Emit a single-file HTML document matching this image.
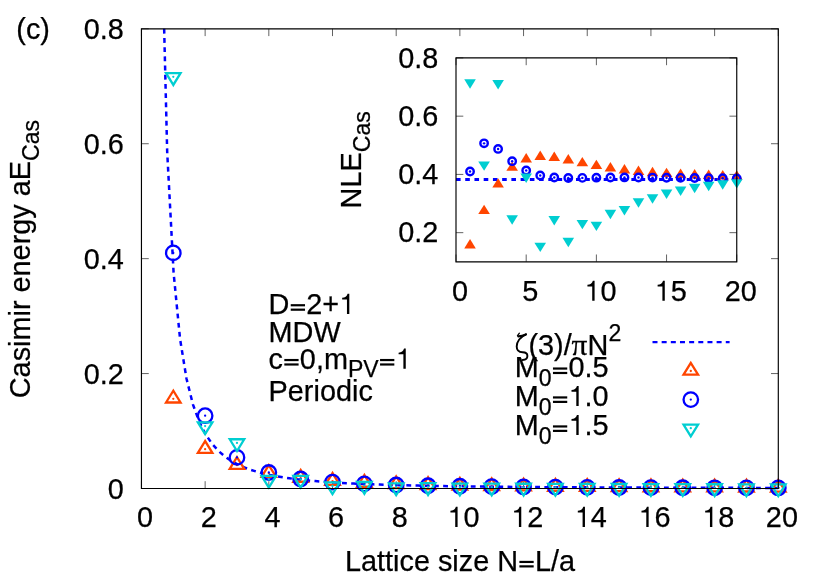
<!DOCTYPE html>
<html><head><meta charset="utf-8"><title>Casimir energy plot</title>
<style>html,body{margin:0;padding:0;background:#fff}text{stroke:#000;stroke-width:.25px;stroke-linejoin:round;font-kerning:none}body{width:830px;height:581px;overflow:hidden}</style>
</head><body>
<svg width="830" height="581" viewBox="0 0 830 581" style="display:block;will-change:transform;font-family:'Liberation Sans',sans-serif;font-size:28.85px" fill="#000">
<rect width="830" height="581" fill="#fff"/>
<path d="M141.45 488.5v-7.3M141.45 28.8v7.3M205.13 488.5v-7.3M205.13 28.8v7.3M268.82 488.5v-7.3M268.82 28.8v7.3M332.5 488.5v-7.3M332.5 28.8v7.3M396.19 488.5v-7.3M396.19 28.8v7.3M459.87 488.5v-7.3M459.87 28.8v7.3M523.56 488.5v-7.3M523.56 28.8v7.3M587.24 488.5v-7.3M587.24 28.8v7.3M650.93 488.5v-7.3M650.93 28.8v7.3M714.62 488.5v-7.3M714.62 28.8v7.3M778.3 488.5v-7.3M778.3 28.8v7.3M141.45 488.5h7.3M778.3 488.5h-7.3M141.45 373.57h7.3M778.3 373.57h-7.3M141.45 258.65h7.3M778.3 258.65h-7.3M141.45 143.72h7.3M778.3 143.72h-7.3M141.45 28.8h7.3M778.3 28.8h-7.3M456 261.8v-7.3M456 57.9v7.3M526.19 261.8v-7.3M526.19 57.9v7.3M596.38 261.8v-7.3M596.38 57.9v7.3M666.56 261.8v-7.3M666.56 57.9v7.3M736.75 261.8v-7.3M736.75 57.9v7.3M456.0 232.67h7.3M736.75 232.67h-7.3M456.0 174.41h7.3M736.75 174.41h-7.3M456.0 116.16h7.3M736.75 116.16h-7.3M456.0 57.9h7.3M736.75 57.9h-7.3" fill="none" stroke="#000" stroke-width="0.62"/>
<clipPath id="cm"><rect x="141.45" y="28.8" width="636.8499999999999" height="471.7"/></clipPath>
<path d="M164.16 28.8L167.18 151.79L173.61 273.01L180.05 338.85L186.48 378.56L192.91 404.32L199.35 421.99L205.78 434.63L212.21 443.98L218.64 451.09L225.08 456.62L231.51 461.01L237.94 464.56L244.38 467.46L250.81 469.86L257.24 471.87L263.67 473.58L270.11 475.03L276.54 476.28L282.97 477.37L289.41 478.32L295.84 479.15L302.27 479.88L308.7 480.53L315.14 481.11L321.57 481.63L328 482.09L334.43 482.51L340.87 482.89L347.3 483.24L353.73 483.55L360.17 483.84L366.6 484.1L373.03 484.34L379.46 484.56L385.9 484.77L392.33 484.96L398.76 485.13L405.2 485.3L411.63 485.45L418.06 485.59L424.49 485.72L430.93 485.84L437.36 485.95L443.79 486.06L450.23 486.16L456.66 486.26L463.09 486.35L469.52 486.43L475.96 486.51L482.39 486.58L488.82 486.65L495.26 486.72L501.69 486.78L508.12 486.84L514.55 486.9L520.99 486.95L527.42 487L533.85 487.05L540.29 487.1L546.72 487.14L553.15 487.18L559.58 487.22L566.02 487.26L572.45 487.3L578.88 487.33L585.32 487.37L591.75 487.4L598.18 487.43L604.61 487.46L611.05 487.49L617.48 487.52L623.91 487.54L630.34 487.57L636.78 487.59L643.21 487.61L649.64 487.64L656.08 487.66L662.51 487.68L668.94 487.7L675.37 487.72L681.81 487.74L688.24 487.75L694.67 487.77L701.11 487.79L707.54 487.8L713.97 487.82L720.4 487.83L726.84 487.85L733.27 487.86L739.7 487.88L746.14 487.89L752.57 487.9L759 487.92L765.43 487.93L771.87 487.94L778.3 487.95" fill="none" stroke="#0000ff" stroke-width="2.5" stroke-dasharray="4.85 4.35" stroke-dashoffset="0"/>
<clipPath id="cmc"><rect x="141.45" y="28.8" width="636.8499999999999" height="459.7"/></clipPath>
<path d="M173.29 390.75L166.04 402.49L180.54 402.49Z" fill="none" stroke="#ff4500" stroke-width="2.3" stroke-linejoin="miter" stroke-miterlimit="10"/><circle cx="173.29" cy="398.87" r="1.15" fill="#ff4500"/>
<path d="M205.13 441.06L197.88 452.8L212.38 452.8Z" fill="none" stroke="#ff4500" stroke-width="2.3" stroke-linejoin="miter" stroke-miterlimit="10"/><circle cx="205.13" cy="449.18" r="1.15" fill="#ff4500"/>
<path d="M236.98 457.1L229.73 468.84L244.23 468.84Z" fill="none" stroke="#ff4500" stroke-width="2.3" stroke-linejoin="miter" stroke-miterlimit="10"/><circle cx="236.98" cy="465.22" r="1.15" fill="#ff4500"/>
<path d="M268.82 465.21L261.57 476.96L276.07 476.96Z" fill="none" stroke="#ff4500" stroke-width="2.3" stroke-linejoin="miter" stroke-miterlimit="10"/><circle cx="268.82" cy="473.33" r="1.15" fill="#ff4500"/>
<path d="M300.66 470.01L293.41 481.76L307.91 481.76Z" fill="none" stroke="#ff4500" stroke-width="2.3" stroke-linejoin="miter" stroke-miterlimit="10"/><circle cx="300.66" cy="478.13" r="1.15" fill="#ff4500"/>
<path d="M332.5 473.05L325.25 484.79L339.75 484.79Z" fill="none" stroke="#ff4500" stroke-width="2.3" stroke-linejoin="miter" stroke-miterlimit="10"/><circle cx="332.5" cy="481.17" r="1.15" fill="#ff4500"/>
<path d="M364.35 475.03L357.1 486.77L371.6 486.77Z" fill="none" stroke="#ff4500" stroke-width="2.3" stroke-linejoin="miter" stroke-miterlimit="10"/><circle cx="364.35" cy="483.15" r="1.15" fill="#ff4500"/>
<path d="M396.19 476.36L388.94 488.11L403.44 488.11Z" fill="none" stroke="#ff4500" stroke-width="2.3" stroke-linejoin="miter" stroke-miterlimit="10"/><circle cx="396.19" cy="484.48" r="1.15" fill="#ff4500"/>
<path d="M428.03 477.27L420.78 489.02L435.28 489.02Z" fill="none" stroke="#ff4500" stroke-width="2.3" stroke-linejoin="miter" stroke-miterlimit="10"/><circle cx="428.03" cy="485.39" r="1.15" fill="#ff4500"/>
<path d="M459.87 477.92L452.62 489.66L467.12 489.66Z" fill="none" stroke="#ff4500" stroke-width="2.3" stroke-linejoin="miter" stroke-miterlimit="10"/><circle cx="459.87" cy="486.04" r="1.15" fill="#ff4500"/>
<path d="M491.72 478.38L484.47 490.13L498.97 490.13Z" fill="none" stroke="#ff4500" stroke-width="2.3" stroke-linejoin="miter" stroke-miterlimit="10"/><circle cx="491.72" cy="486.5" r="1.15" fill="#ff4500"/>
<path d="M523.56 478.73L516.31 490.47L530.81 490.47Z" fill="none" stroke="#ff4500" stroke-width="2.3" stroke-linejoin="miter" stroke-miterlimit="10"/><circle cx="523.56" cy="486.85" r="1.15" fill="#ff4500"/>
<path d="M555.4 478.99L548.15 490.74L562.65 490.74Z" fill="none" stroke="#ff4500" stroke-width="2.3" stroke-linejoin="miter" stroke-miterlimit="10"/><circle cx="555.4" cy="487.11" r="1.15" fill="#ff4500"/>
<path d="M587.24 479.2L579.99 490.94L594.49 490.94Z" fill="none" stroke="#ff4500" stroke-width="2.3" stroke-linejoin="miter" stroke-miterlimit="10"/><circle cx="587.24" cy="487.32" r="1.15" fill="#ff4500"/>
<path d="M619.09 479.36L611.84 491.1L626.34 491.1Z" fill="none" stroke="#ff4500" stroke-width="2.3" stroke-linejoin="miter" stroke-miterlimit="10"/><circle cx="619.09" cy="487.48" r="1.15" fill="#ff4500"/>
<path d="M650.93 479.49L643.68 491.23L658.18 491.23Z" fill="none" stroke="#ff4500" stroke-width="2.3" stroke-linejoin="miter" stroke-miterlimit="10"/><circle cx="650.93" cy="487.61" r="1.15" fill="#ff4500"/>
<path d="M682.77 479.59L675.52 491.34L690.02 491.34Z" fill="none" stroke="#ff4500" stroke-width="2.3" stroke-linejoin="miter" stroke-miterlimit="10"/><circle cx="682.77" cy="487.71" r="1.15" fill="#ff4500"/>
<path d="M714.62 479.68L707.37 491.43L721.87 491.43Z" fill="none" stroke="#ff4500" stroke-width="2.3" stroke-linejoin="miter" stroke-miterlimit="10"/><circle cx="714.62" cy="487.8" r="1.15" fill="#ff4500"/>
<path d="M746.46 479.75L739.21 491.5L753.71 491.5Z" fill="none" stroke="#ff4500" stroke-width="2.3" stroke-linejoin="miter" stroke-miterlimit="10"/><circle cx="746.46" cy="487.87" r="1.15" fill="#ff4500"/>
<path d="M778.3 479.82L771.05 491.56L785.55 491.56Z" fill="none" stroke="#ff4500" stroke-width="2.3" stroke-linejoin="miter" stroke-miterlimit="10"/><circle cx="778.3" cy="487.94" r="1.15" fill="#ff4500"/>
<circle cx="173.29" cy="252.88" r="7.25" fill="none" stroke="#0000ff" stroke-width="2.3"/><circle cx="173.29" cy="252.88" r="1.15" fill="#0000ff"/>
<circle cx="205.13" cy="415.72" r="7.25" fill="none" stroke="#0000ff" stroke-width="2.3"/><circle cx="205.13" cy="415.72" r="1.15" fill="#0000ff"/>
<circle cx="236.98" cy="457.38" r="7.25" fill="none" stroke="#0000ff" stroke-width="2.3"/><circle cx="236.98" cy="457.38" r="1.15" fill="#0000ff"/>
<circle cx="268.82" cy="472.5" r="7.25" fill="none" stroke="#0000ff" stroke-width="2.3"/><circle cx="268.82" cy="472.5" r="1.15" fill="#0000ff"/>
<circle cx="300.66" cy="478.99" r="7.25" fill="none" stroke="#0000ff" stroke-width="2.3"/><circle cx="300.66" cy="478.99" r="1.15" fill="#0000ff"/>
<circle cx="332.5" cy="482.17" r="7.25" fill="none" stroke="#0000ff" stroke-width="2.3"/><circle cx="332.5" cy="482.17" r="1.15" fill="#0000ff"/>
<circle cx="364.35" cy="483.93" r="7.25" fill="none" stroke="#0000ff" stroke-width="2.3"/><circle cx="364.35" cy="483.93" r="1.15" fill="#0000ff"/>
<circle cx="396.19" cy="485.02" r="7.25" fill="none" stroke="#0000ff" stroke-width="2.3"/><circle cx="396.19" cy="485.02" r="1.15" fill="#0000ff"/>
<circle cx="428.03" cy="485.75" r="7.25" fill="none" stroke="#0000ff" stroke-width="2.3"/><circle cx="428.03" cy="485.75" r="1.15" fill="#0000ff"/>
<circle cx="459.87" cy="486.27" r="7.25" fill="none" stroke="#0000ff" stroke-width="2.3"/><circle cx="459.87" cy="486.27" r="1.15" fill="#0000ff"/>
<circle cx="491.72" cy="486.65" r="7.25" fill="none" stroke="#0000ff" stroke-width="2.3"/><circle cx="491.72" cy="486.65" r="1.15" fill="#0000ff"/>
<circle cx="523.56" cy="486.95" r="7.25" fill="none" stroke="#0000ff" stroke-width="2.3"/><circle cx="523.56" cy="486.95" r="1.15" fill="#0000ff"/>
<circle cx="555.4" cy="487.18" r="7.25" fill="none" stroke="#0000ff" stroke-width="2.3"/><circle cx="555.4" cy="487.18" r="1.15" fill="#0000ff"/>
<circle cx="587.24" cy="487.36" r="7.25" fill="none" stroke="#0000ff" stroke-width="2.3"/><circle cx="587.24" cy="487.36" r="1.15" fill="#0000ff"/>
<circle cx="619.09" cy="487.51" r="7.25" fill="none" stroke="#0000ff" stroke-width="2.3"/><circle cx="619.09" cy="487.51" r="1.15" fill="#0000ff"/>
<circle cx="650.93" cy="487.63" r="7.25" fill="none" stroke="#0000ff" stroke-width="2.3"/><circle cx="650.93" cy="487.63" r="1.15" fill="#0000ff"/>
<circle cx="682.77" cy="487.73" r="7.25" fill="none" stroke="#0000ff" stroke-width="2.3"/><circle cx="682.77" cy="487.73" r="1.15" fill="#0000ff"/>
<circle cx="714.62" cy="487.81" r="7.25" fill="none" stroke="#0000ff" stroke-width="2.3"/><circle cx="714.62" cy="487.81" r="1.15" fill="#0000ff"/>
<circle cx="746.46" cy="487.88" r="7.25" fill="none" stroke="#0000ff" stroke-width="2.3"/><circle cx="746.46" cy="487.88" r="1.15" fill="#0000ff"/>
<circle cx="778.3" cy="487.95" r="7.25" fill="none" stroke="#0000ff" stroke-width="2.3"/><circle cx="778.3" cy="487.95" r="1.15" fill="#0000ff"/>
<path d="M173.29 84.94L166.04 73.2L180.54 73.2Z" fill="none" stroke="#00ced1" stroke-width="2.3" stroke-linejoin="miter" stroke-miterlimit="10"/><circle cx="173.29" cy="76.82" r="1.15" fill="#00ced1"/>
<path d="M205.13 434.18L197.88 422.44L212.38 422.44Z" fill="none" stroke="#00ced1" stroke-width="2.3" stroke-linejoin="miter" stroke-miterlimit="10"/><circle cx="205.13" cy="426.06" r="1.15" fill="#00ced1"/>
<path d="M236.98 451.02L229.73 439.27L244.23 439.27Z" fill="none" stroke="#00ced1" stroke-width="2.3" stroke-linejoin="miter" stroke-miterlimit="10"/><circle cx="236.98" cy="442.9" r="1.15" fill="#00ced1"/>
<path d="M268.82 487.66L261.57 475.92L276.07 475.92Z" fill="none" stroke="#00ced1" stroke-width="2.3" stroke-linejoin="miter" stroke-miterlimit="10"/><circle cx="268.82" cy="479.54" r="1.15" fill="#00ced1"/>
<path d="M300.66 487.59L293.41 475.84L307.91 475.84Z" fill="none" stroke="#00ced1" stroke-width="2.3" stroke-linejoin="miter" stroke-miterlimit="10"/><circle cx="300.66" cy="479.47" r="1.15" fill="#00ced1"/>
<path d="M332.5 494.14L325.25 482.39L339.75 482.39Z" fill="none" stroke="#00ced1" stroke-width="2.3" stroke-linejoin="miter" stroke-miterlimit="10"/><circle cx="332.5" cy="486.02" r="1.15" fill="#00ced1"/>
<path d="M364.35 493.72L357.1 481.98L371.6 481.98Z" fill="none" stroke="#00ced1" stroke-width="2.3" stroke-linejoin="miter" stroke-miterlimit="10"/><circle cx="364.35" cy="485.6" r="1.15" fill="#00ced1"/>
<path d="M396.19 495.07L388.94 483.33L403.44 483.33Z" fill="none" stroke="#00ced1" stroke-width="2.3" stroke-linejoin="miter" stroke-miterlimit="10"/><circle cx="396.19" cy="486.95" r="1.15" fill="#00ced1"/>
<path d="M428.03 494.96L420.78 483.22L435.28 483.22Z" fill="none" stroke="#00ced1" stroke-width="2.3" stroke-linejoin="miter" stroke-miterlimit="10"/><circle cx="428.03" cy="486.84" r="1.15" fill="#00ced1"/>
<path d="M459.87 495.31L452.62 483.57L467.12 483.57Z" fill="none" stroke="#00ced1" stroke-width="2.3" stroke-linejoin="miter" stroke-miterlimit="10"/><circle cx="459.87" cy="487.19" r="1.15" fill="#00ced1"/>
<path d="M491.72 495.34L484.47 483.6L498.97 483.6Z" fill="none" stroke="#00ced1" stroke-width="2.3" stroke-linejoin="miter" stroke-miterlimit="10"/><circle cx="491.72" cy="487.22" r="1.15" fill="#00ced1"/>
<path d="M523.56 495.5L516.31 483.75L530.81 483.75Z" fill="none" stroke="#00ced1" stroke-width="2.3" stroke-linejoin="miter" stroke-miterlimit="10"/><circle cx="523.56" cy="487.38" r="1.15" fill="#00ced1"/>
<path d="M555.4 495.57L548.15 483.83L562.65 483.83Z" fill="none" stroke="#00ced1" stroke-width="2.3" stroke-linejoin="miter" stroke-miterlimit="10"/><circle cx="555.4" cy="487.45" r="1.15" fill="#00ced1"/>
<path d="M587.24 495.68L579.99 483.93L594.49 483.93Z" fill="none" stroke="#00ced1" stroke-width="2.3" stroke-linejoin="miter" stroke-miterlimit="10"/><circle cx="587.24" cy="487.56" r="1.15" fill="#00ced1"/>
<path d="M619.09 495.76L611.84 484.01L626.34 484.01Z" fill="none" stroke="#00ced1" stroke-width="2.3" stroke-linejoin="miter" stroke-miterlimit="10"/><circle cx="619.09" cy="487.64" r="1.15" fill="#00ced1"/>
<path d="M650.93 495.84L643.68 484.09L658.18 484.09Z" fill="none" stroke="#00ced1" stroke-width="2.3" stroke-linejoin="miter" stroke-miterlimit="10"/><circle cx="650.93" cy="487.72" r="1.15" fill="#00ced1"/>
<path d="M682.77 495.91L675.52 484.16L690.02 484.16Z" fill="none" stroke="#00ced1" stroke-width="2.3" stroke-linejoin="miter" stroke-miterlimit="10"/><circle cx="682.77" cy="487.79" r="1.15" fill="#00ced1"/>
<path d="M714.62 495.97L707.37 484.23L721.87 484.23Z" fill="none" stroke="#00ced1" stroke-width="2.3" stroke-linejoin="miter" stroke-miterlimit="10"/><circle cx="714.62" cy="487.85" r="1.15" fill="#00ced1"/>
<path d="M746.46 496.03L739.21 484.29L753.71 484.29Z" fill="none" stroke="#00ced1" stroke-width="2.3" stroke-linejoin="miter" stroke-miterlimit="10"/><circle cx="746.46" cy="487.91" r="1.15" fill="#00ced1"/>
<path d="M778.3 496.08L771.05 484.34L785.55 484.34Z" fill="none" stroke="#00ced1" stroke-width="2.3" stroke-linejoin="miter" stroke-miterlimit="10"/><circle cx="778.3" cy="487.96" r="1.15" fill="#00ced1"/>
<path d="M652.5 342.05H729.6" stroke="#0000ff" stroke-width="2.3" stroke-dasharray="5 4.16" fill="none"/>
<path d="M690.8 362.88L683.55 374.62L698.05 374.62Z" fill="none" stroke="#ff4500" stroke-width="2.3" stroke-linejoin="miter" stroke-miterlimit="10"/><circle cx="690.8" cy="371" r="1.15" fill="#ff4500"/>
<circle cx="690.8" cy="399.6" r="7.25" fill="none" stroke="#0000ff" stroke-width="2.3"/><circle cx="690.8" cy="399.6" r="1.15" fill="#0000ff"/>
<path d="M690.8 436.32L683.55 424.57L698.05 424.57Z" fill="none" stroke="#00ced1" stroke-width="2.3" stroke-linejoin="miter" stroke-miterlimit="10"/><circle cx="690.8" cy="428.2" r="1.15" fill="#00ced1"/>
<path d="M456 179.47H736.75" stroke="#0000ff" stroke-width="2.9" stroke-dasharray="4.6 4.63" fill="none"/>
<path d="M470.04 239L464.24 248.39L475.84 248.39Z" fill="#ff4500"/>
<path d="M484.07 204.7L478.27 214.09L489.88 214.09Z" fill="#ff4500"/>
<path d="M498.11 178.21L492.31 187.61L503.91 187.61Z" fill="#ff4500"/>
<path d="M512.15 161.41L506.35 170.8L517.95 170.8Z" fill="#ff4500"/>
<path d="M526.19 153.07L520.39 162.46L531.99 162.46Z" fill="#ff4500"/>
<path d="M540.23 150.61L534.43 160.01L546.02 160.01Z" fill="#ff4500"/>
<path d="M554.26 151.54L548.46 160.94L560.06 160.94Z" fill="#ff4500"/>
<path d="M568.3 154.02L562.5 163.41L574.1 163.41Z" fill="#ff4500"/>
<path d="M582.34 156.91L576.54 166.31L588.14 166.31Z" fill="#ff4500"/>
<path d="M596.38 159.66L590.58 169.06L602.17 169.06Z" fill="#ff4500"/>
<path d="M610.41 162.04L604.61 171.43L616.21 171.43Z" fill="#ff4500"/>
<path d="M624.45 163.98L618.65 173.38L630.25 173.38Z" fill="#ff4500"/>
<path d="M638.49 165.53L632.69 174.93L644.29 174.93Z" fill="#ff4500"/>
<path d="M652.52 166.76L646.73 176.15L658.32 176.15Z" fill="#ff4500"/>
<path d="M666.56 167.72L660.76 177.12L672.36 177.12Z" fill="#ff4500"/>
<path d="M680.6 168.48L674.8 177.88L686.4 177.88Z" fill="#ff4500"/>
<path d="M694.64 169.09L688.84 178.49L700.44 178.49Z" fill="#ff4500"/>
<path d="M708.67 169.58L702.88 178.98L714.47 178.98Z" fill="#ff4500"/>
<path d="M722.71 169.99L716.91 179.38L728.51 179.38Z" fill="#ff4500"/>
<path d="M736.75 170.32L730.95 179.71L742.55 179.71Z" fill="#ff4500"/>
<circle cx="470.04" cy="171.49" r="3.72" fill="none" stroke="#0000ff" stroke-width="2.4"/><circle cx="470.04" cy="171.49" r="1.2" fill="#0000ff"/>
<circle cx="484.07" cy="143.35" r="3.72" fill="none" stroke="#0000ff" stroke-width="2.4"/><circle cx="484.07" cy="143.35" r="1.2" fill="#0000ff"/>
<circle cx="498.11" cy="148.93" r="3.72" fill="none" stroke="#0000ff" stroke-width="2.4"/><circle cx="498.11" cy="148.93" r="1.2" fill="#0000ff"/>
<circle cx="512.15" cy="161.2" r="3.72" fill="none" stroke="#0000ff" stroke-width="2.4"/><circle cx="512.15" cy="161.2" r="1.2" fill="#0000ff"/>
<circle cx="526.19" cy="170.46" r="3.72" fill="none" stroke="#0000ff" stroke-width="2.4"/><circle cx="526.19" cy="170.46" r="1.2" fill="#0000ff"/>
<circle cx="540.23" cy="175.47" r="3.72" fill="none" stroke="#0000ff" stroke-width="2.4"/><circle cx="540.23" cy="175.47" r="1.2" fill="#0000ff"/>
<circle cx="554.26" cy="177.5" r="3.72" fill="none" stroke="#0000ff" stroke-width="2.4"/><circle cx="554.26" cy="177.5" r="1.2" fill="#0000ff"/>
<circle cx="568.3" cy="177.99" r="3.72" fill="none" stroke="#0000ff" stroke-width="2.4"/><circle cx="568.3" cy="177.99" r="1.2" fill="#0000ff"/>
<circle cx="582.34" cy="177.89" r="3.72" fill="none" stroke="#0000ff" stroke-width="2.4"/><circle cx="582.34" cy="177.89" r="1.2" fill="#0000ff"/>
<circle cx="596.38" cy="177.66" r="3.72" fill="none" stroke="#0000ff" stroke-width="2.4"/><circle cx="596.38" cy="177.66" r="1.2" fill="#0000ff"/>
<circle cx="610.41" cy="177.5" r="3.72" fill="none" stroke="#0000ff" stroke-width="2.4"/><circle cx="610.41" cy="177.5" r="1.2" fill="#0000ff"/>
<circle cx="624.45" cy="177.45" r="3.72" fill="none" stroke="#0000ff" stroke-width="2.4"/><circle cx="624.45" cy="177.45" r="1.2" fill="#0000ff"/>
<circle cx="638.49" cy="177.49" r="3.72" fill="none" stroke="#0000ff" stroke-width="2.4"/><circle cx="638.49" cy="177.49" r="1.2" fill="#0000ff"/>
<circle cx="652.52" cy="177.59" r="3.72" fill="none" stroke="#0000ff" stroke-width="2.4"/><circle cx="652.52" cy="177.59" r="1.2" fill="#0000ff"/>
<circle cx="666.56" cy="177.73" r="3.72" fill="none" stroke="#0000ff" stroke-width="2.4"/><circle cx="666.56" cy="177.73" r="1.2" fill="#0000ff"/>
<circle cx="680.6" cy="177.88" r="3.72" fill="none" stroke="#0000ff" stroke-width="2.4"/><circle cx="680.6" cy="177.88" r="1.2" fill="#0000ff"/>
<circle cx="694.64" cy="178.03" r="3.72" fill="none" stroke="#0000ff" stroke-width="2.4"/><circle cx="694.64" cy="178.03" r="1.2" fill="#0000ff"/>
<circle cx="708.67" cy="178.16" r="3.72" fill="none" stroke="#0000ff" stroke-width="2.4"/><circle cx="708.67" cy="178.16" r="1.2" fill="#0000ff"/>
<circle cx="722.71" cy="178.29" r="3.72" fill="none" stroke="#0000ff" stroke-width="2.4"/><circle cx="722.71" cy="178.29" r="1.2" fill="#0000ff"/>
<circle cx="736.75" cy="178.4" r="3.72" fill="none" stroke="#0000ff" stroke-width="2.4"/><circle cx="736.75" cy="178.4" r="1.2" fill="#0000ff"/>
<path d="M470.04 88.74L464.24 79.34L475.84 79.34Z" fill="#00ced1"/>
<path d="M484.07 170.82L478.27 161.42L489.88 161.42Z" fill="#00ced1"/>
<path d="M498.11 89.39L492.31 79.99L503.91 79.99Z" fill="#00ced1"/>
<path d="M512.15 224.77L506.35 215.37L517.95 215.37Z" fill="#00ced1"/>
<path d="M526.19 182.97L520.39 173.58L531.99 173.58Z" fill="#00ced1"/>
<path d="M540.23 252.09L534.43 242.69L546.02 242.69Z" fill="#00ced1"/>
<path d="M554.26 225.47L548.46 216.07L560.06 216.07Z" fill="#00ced1"/>
<path d="M568.3 247.16L562.5 237.76L574.1 237.76Z" fill="#00ced1"/>
<path d="M582.34 229.29L576.54 219.89L588.14 219.89Z" fill="#00ced1"/>
<path d="M596.38 231.08L590.58 221.68L602.17 221.68Z" fill="#00ced1"/>
<path d="M610.41 219.21L604.61 209.82L616.21 209.82Z" fill="#00ced1"/>
<path d="M624.45 215.39L618.65 205.99L630.25 205.99Z" fill="#00ced1"/>
<path d="M638.49 207.77L632.69 198.37L644.29 198.37Z" fill="#00ced1"/>
<path d="M652.52 203.65L646.73 194.25L658.32 194.25Z" fill="#00ced1"/>
<path d="M666.56 198.96L660.76 189.56L672.36 189.56Z" fill="#00ced1"/>
<path d="M680.6 195.93L674.8 186.53L686.4 186.53Z" fill="#00ced1"/>
<path d="M694.64 193.15L688.84 183.76L700.44 183.76Z" fill="#00ced1"/>
<path d="M708.67 191.24L702.88 181.84L714.47 181.84Z" fill="#00ced1"/>
<path d="M722.71 189.66L716.91 180.26L728.51 180.26Z" fill="#00ced1"/>
<path d="M736.75 188.55L730.95 179.15L742.55 179.15Z" fill="#00ced1"/>
<path d="M141.45 28.8H778.3V488.5H141.45ZM456.0 57.9H736.75V261.8H456.0Z" fill="none" stroke="#000" stroke-width="1.15" stroke-linecap="butt" stroke-linejoin="miter"/>
<text x="16.3" y="38.9" font-size="28.85">(c)</text>
<text x="107.86" y="498.5" font-size="28.85">0</text>
<text x="83.8" y="383.57" font-size="28.85">0.2</text>
<text x="83.8" y="268.65" font-size="28.85">0.4</text>
<text x="83.8" y="153.72" font-size="28.85">0.6</text>
<text x="83.8" y="38.8" font-size="28.85">0.8</text>
<text x="137.03" y="526.9" font-size="28.85">0</text>
<text x="200.71" y="526.9" font-size="28.85">2</text>
<text x="264.4" y="526.9" font-size="28.85">4</text>
<text x="328.08" y="526.9" font-size="28.85">6</text>
<text x="391.77" y="526.9" font-size="28.85">8</text>
<path d="M457.59 526.9L455.22 526.9L455.22 512.56L450.43 512.56L450.43 510.86C453.2 510.6 455.17 509.3 455.86 506.76L457.59 506.76Z"/><text x="463.47" y="526.9" font-size="28.85">0</text>
<path d="M521.27 526.9L518.91 526.9L518.91 512.56L514.12 512.56L514.12 510.86C516.89 510.6 518.85 509.3 519.54 506.76L521.27 506.76Z"/><text x="527.16" y="526.9" font-size="28.85">2</text>
<path d="M584.96 526.9L582.59 526.9L582.59 512.56L577.8 512.56L577.8 510.86C580.57 510.6 582.54 509.3 583.23 506.76L584.96 506.76Z"/><text x="590.84" y="526.9" font-size="28.85">4</text>
<path d="M648.64 526.9L646.28 526.9L646.28 512.56L641.49 512.56L641.49 510.86C644.26 510.6 646.22 509.3 646.91 506.76L648.64 506.76Z"/><text x="654.53" y="526.9" font-size="28.85">6</text>
<path d="M712.33 526.9L709.96 526.9L709.96 512.56L705.17 512.56L705.17 510.86C707.94 510.6 709.91 509.3 710.6 506.76L712.33 506.76Z"/><text x="718.22" y="526.9" font-size="28.85">8</text>
<text x="765.86" y="526.9" font-size="28.85">20</text>
<text x="344.95" y="570.6" font-size="28.85">Lattice size N</text><rect x="519.4" y="565.29" width="14.28" height="2.19"/><rect x="519.4" y="560.85" width="14.28" height="2.19"/><text x="534.95" y="570.6" font-size="28.85">L/a</text>
<text transform="translate(29.7 259.1) rotate(-90)" text-anchor="middle">Casimir energy aE<tspan font-size="23.08" dy="9.5">Cas</tspan></text>
<text x="398.2" y="242.47" font-size="28.85">0.2</text>
<text x="398.2" y="184.21" font-size="28.85">0.4</text>
<text x="398.2" y="125.96" font-size="28.85">0.6</text>
<text x="398.2" y="67.7" font-size="28.85">0.8</text>
<text x="452.08" y="300.8" font-size="28.85">0</text>
<text x="522.27" y="300.8" font-size="28.85">5</text>
<path d="M594.59 300.8L592.22 300.8L592.22 286.46L587.43 286.46L587.43 284.76C590.2 284.5 592.17 283.2 592.86 280.66L594.59 280.66Z"/><text x="600.48" y="300.8" font-size="28.85">0</text>
<path d="M664.78 300.8L662.41 300.8L662.41 286.46L657.62 286.46L657.62 284.76C660.39 284.5 662.35 283.2 663.05 280.66L664.78 280.66Z"/><text x="670.66" y="300.8" font-size="28.85">5</text>
<text x="724.81" y="300.8" font-size="28.85">20</text>
<text transform="translate(360.9 159.8) rotate(-90)" text-anchor="middle">NLE<tspan font-size="23.08" dy="9.5">Cas</tspan></text>
<text x="268.6" y="313.9" font-size="28.85">D</text><rect x="290.73" y="308.59" width="14.28" height="2.19"/><rect x="290.73" y="304.15" width="14.28" height="2.19"/><text x="306.28" y="313.9" font-size="28.85">2+</text><path d="M349.32 313.9L346.96 313.9L346.96 299.56L342.17 299.56L342.17 297.86C344.94 297.6 346.9 296.3 347.59 293.76L349.32 293.76Z"/>
<text x="268.6" y="342.2" font-size="28.85">MDW</text>
<text x="268.6" y="368.7" font-size="28.85">c</text><rect x="284.32" y="363.39" width="14.28" height="2.19"/><rect x="284.32" y="358.95" width="14.28" height="2.19"/><text x="299.87" y="368.7" font-size="28.85">0,m</text><text x="347.97" y="377" font-size="23.08">PV</text><rect x="380.05" y="363.39" width="14.28" height="2.19"/><rect x="380.05" y="358.95" width="14.28" height="2.19"/><path d="M405.76 368.7L403.39 368.7L403.39 354.36L398.6 354.36L398.6 352.66C401.37 352.4 403.34 351.1 404.03 348.56L405.76 348.56Z"/>
<text x="268.6" y="400.8" font-size="28.85">Periodic</text>
<g fill="none" stroke="#000" stroke-linecap="round" stroke-linejoin="round"><path d="M517.5 335.7L519.4 333.2" stroke-width="1.3"/><path d="M518.4 336.4Q522.3 335.9 525.8 334.4" stroke-width="2.2"/><path d="M526 334.3C520.3 336.9 516.7 341.9 516.7 346.6C516.7 351 519 352.3 522.6 352.3C525.6 352.3 527.4 353.6 527.4 356C527.4 358.4 525.4 359.8 522.6 360" stroke-width="1.9"/></g>
<text x="528.45" y="354.9" font-size="28.85">(3)/</text>
<text transform="translate(571.43 354.9) scale(1.09 1)" font-family="'Liberation Serif',serif">π</text>
<text x="587.57" y="354.9" font-size="28.85">N</text>
<text x="608.4" y="340.9" font-size="23.08">2</text>
<text x="514.8" y="377.2" font-size="28.85">M</text><text x="538.83" y="386.3" font-size="23.08">0</text><rect x="552.96" y="371.89" width="14.28" height="2.19"/><rect x="552.96" y="367.45" width="14.28" height="2.19"/><text x="568.51" y="377.2" font-size="28.85">0.5</text>
<text x="514.8" y="406.1" font-size="28.85">M</text><text x="538.83" y="415.2" font-size="23.08">0</text><rect x="552.96" y="400.79" width="14.28" height="2.19"/><rect x="552.96" y="396.35" width="14.28" height="2.19"/><path d="M578.67 406.1L576.3 406.1L576.3 391.76L571.51 391.76L571.51 390.06C574.28 389.8 576.24 388.5 576.94 385.96L578.67 385.96Z"/><text x="584.55" y="406.1" font-size="28.85">.0</text>
<text x="514.8" y="435.1" font-size="28.85">M</text><text x="538.83" y="444.2" font-size="23.08">0</text><rect x="552.96" y="429.79" width="14.28" height="2.19"/><rect x="552.96" y="425.35" width="14.28" height="2.19"/><path d="M578.67 435.1L576.3 435.1L576.3 420.76L571.51 420.76L571.51 419.06C574.28 418.8 576.24 417.5 576.94 414.96L578.67 414.96Z"/><text x="584.55" y="435.1" font-size="28.85">.5</text>
</svg>
</body></html>
